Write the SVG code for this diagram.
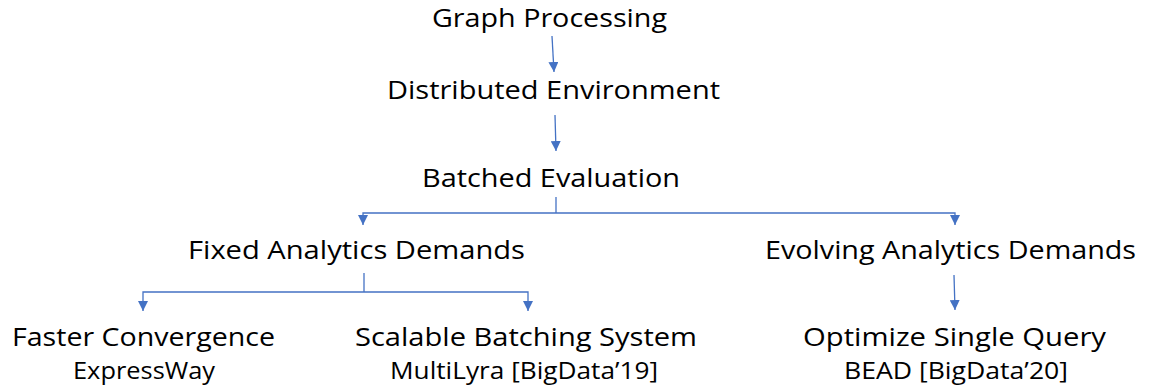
<svg xmlns="http://www.w3.org/2000/svg" width="1155" height="385" viewBox="0 0 1155 385">
  <style>
    .lbl { font-family: "Open Sans", "Noto Sans", "Liberation Sans", sans-serif; fill: #000; }
    .main { font-size: 25px; }
    .sub { font-size: 23.5px; }
    .conn { fill: none; stroke: #4472C4; stroke-width: 1.3; }
  </style>
  <defs>
    <marker id="arrow" markerUnits="userSpaceOnUse" markerWidth="10" markerHeight="10" viewBox="0 0 10 10" refX="10" refY="5" orient="auto">
      <path d="M0,0 L10,5 L0,10 Z" fill="#4472C4"/>
    </marker>
  </defs>

  <rect width="1155" height="385" fill="#fff"/>

  <g id="connectors">
    <path class="conn" d="M552,36 L554,72" marker-end="url(#arrow)"/>
    <path class="conn" d="M555,115 L556,151" marker-end="url(#arrow)"/>
    <path class="conn" d="M556,197 L556,213"/>
    <path class="conn" d="M556,213 L363,213 L363,225" marker-end="url(#arrow)"/>
    <path class="conn" d="M556,213 L955,213 L955,225" marker-end="url(#arrow)"/>
    <path class="conn" d="M364,273 L364,292"/>
    <path class="conn" d="M364,292 L143,292 L143,311" marker-end="url(#arrow)"/>
    <path class="conn" d="M364,292 L528,292 L528,311" marker-end="url(#arrow)"/>
    <path class="conn" d="M954,275 L955,310" marker-end="url(#arrow)"/>
  </g>

  <g id="graph-processing">
    <text class="lbl main" x="432" y="27" textLength="235" lengthAdjust="spacingAndGlyphs">Graph Processing</text>
  </g>
  <g id="distributed-environment">
    <text class="lbl main" x="387" y="99" textLength="333" lengthAdjust="spacingAndGlyphs">Distributed Environment</text>
  </g>
  <g id="batched-evaluation">
    <text class="lbl main" x="422" y="187" textLength="258" lengthAdjust="spacingAndGlyphs">Batched Evaluation</text>
  </g>
  <g id="fixed-demands">
    <text class="lbl main" x="188" y="259" textLength="337" lengthAdjust="spacingAndGlyphs">Fixed Analytics Demands</text>
  </g>
  <g id="evolving-demands">
    <text class="lbl main" x="765" y="259" textLength="371" lengthAdjust="spacingAndGlyphs">Evolving Analytics Demands</text>
  </g>
  <g id="faster-convergence">
    <text class="lbl main" x="12" y="346" textLength="263" lengthAdjust="spacingAndGlyphs">Faster Convergence</text>
    <text class="lbl sub" x="73" y="379" textLength="142" lengthAdjust="spacingAndGlyphs">ExpressWay</text>
  </g>
  <g id="scalable-batching">
    <text class="lbl main" x="355" y="346" textLength="342" lengthAdjust="spacingAndGlyphs">Scalable Batching System</text>
    <text class="lbl sub" x="390" y="379" textLength="268" lengthAdjust="spacingAndGlyphs">MultiLyra [BigData’19]</text>
  </g>
  <g id="optimize-single-query">
    <text class="lbl main" x="803" y="346" textLength="303" lengthAdjust="spacingAndGlyphs">Optimize Single Query</text>
    <text class="lbl sub" x="844" y="379" textLength="224" lengthAdjust="spacingAndGlyphs">BEAD [BigData’20]</text>
  </g>
</svg>
